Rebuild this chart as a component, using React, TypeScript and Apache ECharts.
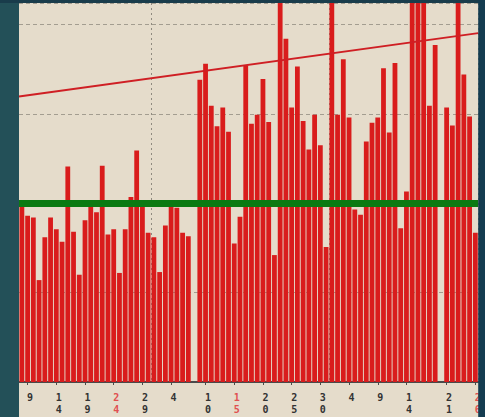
import React, { useEffect, useRef } from 'react';
import * as echarts from 'echarts';

// Calendar days shown on the category axis (June 8 – August 26)
const juneDays = [8, 9, 10, 11, 12, 13, 14, 15, 16, 17, 18, 19, 20, 21, 22, 23, 24, 25, 26, 27, 28, 29, 30];
const julyDays = [1, 2, 3, 4, 5, 6, 7, 8, 9, 10, 11, 12, 13, 14, 15, 16, 17, 18, 19, 20, 21, 22, 23, 24, 25, 26, 27, 28, 29, 30, 31];
const augustDays = [1, 2, 3, 4, 5, 6, 7, 8, 9, 10, 11, 12, 13, 14, 15, 16, 17, 18, 19, 20, 21, 22, 23, 24, 25, 26];

const categories = [
  ...juneDays.map((d) => `6/${d}`),
  ...julyDays.map((d) => `7/${d}`),
  ...augustDays.map((d) => `8/${d}`),
];

// Tick labels that are printed, and the ones printed in red
const labelledDates = ['6/9', '6/14', '6/19', '6/24', '6/29', '7/4', '7/10', '7/15', '7/20', '7/25', '7/30', '8/4', '8/9', '8/14', '8/21', '8/26'];
const redDates = ['6/24', '7/15', '8/26'];

// Daily values
const dailyValues = [
  19.6, 18.6, 18.4, 11.4, 16.2, 18.4, 17.1, 15.7, 24.1, 16.8,
  12.0, 18.1, 19.8, 19.0, 24.2, 16.5, 17.1, 12.2, 17.1, 20.7,
  25.9, 19.6, 16.7, 16.2, 12.3, 17.5, 19.8, 19.5, 16.7, 16.3,
  0, 33.8, 35.6, 30.9, 28.6, 30.7, 28.0, 15.5, 18.5, 35.4,
  28.9, 29.9, 33.9, 29.1, 14.2, 46, 38.4, 30.7, 35.3, 29.2,
  26.0, 29.9, 26.5, 15.1, 45, 29.9, 36.1, 29.6, 19.3, 18.7,
  26.9, 29.0, 29.6, 35.1, 27.9, 35.7, 17.2, 21.3, 47, 44,
  45, 30.9, 37.7, 0, 30.7, 28.7, 46, 34.4, 29.7, 16.7,
];

// Trend line end values and target level
const trendEnds = [31.95, 39.03];
const targetLevel = 20;

export default function App() {
  const ref = useRef<HTMLDivElement>(null);

  useEffect(() => {
    if (!ref.current) return;
    const chart = echarts.init(ref.current, undefined, { renderer: 'svg' });

    const fmt = (v: string) => {
      const d = v.split('/')[1];
      const tag = redDates.includes(v) ? 'r' : 'n';
      return d.split('').map((c) => `{${tag}|${c}}`).join('\n');
    };
    const isLabelled = (_i: number, v: string) => labelledDates.includes(v);
    const labelStyle = {
      fontFamily: 'DejaVu Sans Mono',
      fontSize: 10,
      fontWeight: 'bold',
      lineHeight: 12,
      padding: [0, 0, 0, 5],
    };

    chart.setOption({
      animation: false,
      backgroundColor: '#e5dccb',
      grid: { left: 19, top: 3, width: 459.2, height: 379, show: false },
      xAxis: [
        {
          type: 'category',
          data: categories,
          boundaryGap: true,
          axisLine: { lineStyle: { color: '#4a4a4a', width: 2 } },
          axisTick: { show: true, alignWithLabel: true, interval: isLabelled, length: 3, lineStyle: { color: '#4a4a4a' } },
          axisLabel: {
            interval: isLabelled,
            margin: 9,
            formatter: fmt,
            rich: {
              n: { ...labelStyle, color: '#333333' },
              r: { ...labelStyle, color: '#e05050' },
            },
          },
          splitLine: {
            show: true,
            interval: (_i: number, v: string) => v.endsWith('/1'),
            lineStyle: { type: [2, 3], color: '#8f8a80', width: 1 },
          },
        },
        { type: 'value', min: 0, max: 1, show: false },
      ],
      yAxis: {
        type: 'value',
        min: 0,
        max: 42.4,
        interval: 10,
        axisLabel: { show: false },
        axisLine: { show: false },
        axisTick: { show: false },
        splitLine: { show: true, lineStyle: { type: [4, 3], color: '#a39d90', width: 1 } },
      },
      series: [
        {
          type: 'bar',
          data: dailyValues,
          barWidth: 4.8,
          itemStyle: { color: '#d91c1c' },
          markLine: {
            silent: true,
            symbol: 'none',
            label: { show: false },
            lineStyle: { color: '#0b7a12', width: 7, type: 'solid' },
            data: [{ yAxis: targetLevel }],
          },
        },
        {
          type: 'line',
          xAxisIndex: 1,
          data: [[0, trendEnds[0]], [1, trendEnds[1]]],
          symbol: 'none',
          lineStyle: { color: '#cf1f24', width: 2 },
          z: 5,
        },
      ],
      graphic: [
        { type: 'rect', shape: { x: 0, y: 0, width: 19, height: 417 }, style: { fill: '#235058' }, z: 100, silent: true },
        { type: 'rect', shape: { x: 0, y: 0, width: 485, height: 3 }, style: { fill: '#193c4b' }, z: 100, silent: true },
        { type: 'rect', shape: { x: 478.2, y: 0, width: 7, height: 417 }, style: { fill: '#143c50' }, z: 100, silent: true },
      ],
    });

    return () => chart.dispose();
  }, []);

  return (
    <div
      ref={ref}
      style={{ position: 'fixed', left: 0, top: 0, width: 485, height: 417 }}
    />
  );
}
